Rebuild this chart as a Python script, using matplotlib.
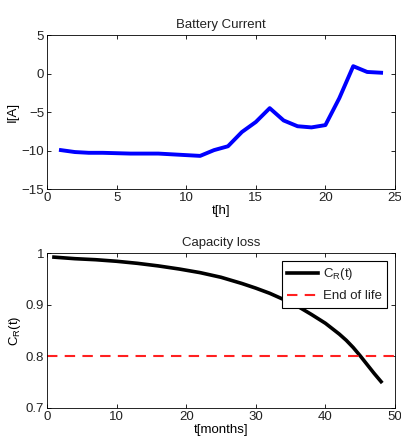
import matplotlib
matplotlib.use("Agg")
import matplotlib.pyplot as plt

# hourly battery current
hours = list(range(1, 25))
current = [-9.95, -10.2, -10.3, -10.3, -10.35, -10.4, -10.4, -10.4, -10.5, -10.6,
           -10.7, -9.95, -9.45, -7.6, -6.3, -4.5, -6.1, -6.85, -7.0, -6.7,
           -3.2, 0.95, 0.2, 0.1]

# relative capacity over months
months = [1, 4, 7, 10, 13, 16, 19, 22, 25, 28, 30, 32, 34, 36, 38, 40, 42, 43,
          44, 45, 46, 47, 48]
capacity = [0.992, 0.989, 0.987, 0.984, 0.980, 0.975, 0.969, 0.962, 0.953, 0.941,
            0.932, 0.922, 0.910, 0.897, 0.881, 0.864, 0.843, 0.831, 0.817, 0.801,
            0.784, 0.767, 0.751]
end_of_life = 0.8

plt.rcParams['font.family'] = ['Liberation Sans Narrow', 'Liberation Sans', 'DejaVu Sans']
plt.rcParams['font.size'] = 9.5
plt.rcParams['text.color'] = '#222222'
plt.rcParams['xtick.labelcolor'] = '#222222'
plt.rcParams['ytick.labelcolor'] = '#222222'

fig = plt.figure(figsize=(4.01, 4.45), dpi=100)
ax1 = fig.add_axes([47 / 401, 1 - 189 / 445, 348 / 401, 154 / 445])
ax2 = fig.add_axes([47 / 401, 1 - 408 / 445, 348 / 401, 155 / 445])

ax1.plot(hours, current, color='#0000ff', lw=2.8, solid_joinstyle='round')
ax1.set_xlim(0, 25)
ax1.set_ylim(-15, 5)
ax1.set_xticks([0, 5, 10, 15, 20, 25])
ax1.set_yticks([-15, -10, -5, 0, 5])
ax1.set_title('Battery Current', fontsize=9.5, pad=5)
ax1.set_xlabel('t[h]', labelpad=1)
ax1.set_ylabel('I[A]', labelpad=2)

ax2.plot(months, capacity, color='k', lw=2.6, solid_joinstyle='round',
         label=r'$\mathregular{C_R}$(t)')
ax2.axhline(end_of_life, color='#ff2020', lw=1.5, ls=(0, (5, 3.5)), label='End of life')
ax2.set_xlim(0, 50)
ax2.set_ylim(0.7, 1.0)
ax2.set_xticks([0, 10, 20, 30, 40, 50])
ax2.set_yticks([0.7, 0.8, 0.9, 1.0])
ax2.set_yticklabels(['0.7', '0.8', '0.9', '1'])
ax2.set_title('Capacity loss', fontsize=9.5, pad=5)
ax2.set_xlabel('t[months]', labelpad=1)
ax2.set_ylabel(r'$\mathregular{C_R}$(t)', labelpad=2)
leg = ax2.legend(loc='upper right', fancybox=False, edgecolor='k', framealpha=1,
                 handlelength=2.3, handletextpad=0.4, borderaxespad=0.6,
                 borderpad=0.4, labelspacing=0.6)
leg.get_frame().set_linewidth(0.8)

for ax in (ax1, ax2):
    ax.tick_params(direction='in', top=True, right=True, length=3, width=0.6, pad=2)
    for s in ax.spines.values():
        s.set_linewidth(0.6)

fig.savefig('out.png', dpi=100)
